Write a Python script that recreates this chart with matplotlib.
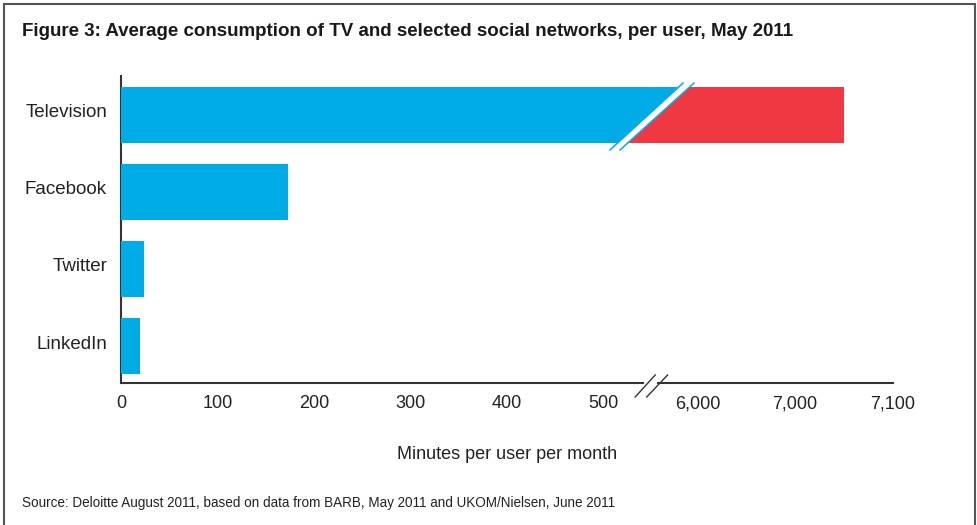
import numpy as np
import matplotlib
matplotlib.use("Agg")
import matplotlib.pyplot as plt
import matplotlib.transforms as mtransforms
from matplotlib.patches import Polygon, Rectangle

plt.rcParams['font.family'] = ['Liberation Sans', 'DejaVu Sans']

# data (minutes per user per month)
networks = ['Television', 'Facebook', 'Twitter', 'LinkedIn']
minutes = [7050, 173, 24, 20]

tick_vals = [0, 100, 200, 300, 400, 500, 6000, 7000, 7100]
tick_labels = ['0', '100', '200', '300', '400', '500', '6,000', '7,000', '7,100']

blue = '#00ace6'
red = '#ef3842'
txt = '#222222'

# broken axis: piecewise linear scale (value -> position)
seg_vals = [0, 500, 6000, 7000, 7100]
seg_pos = [0, 482, 577, 674, 772]


def fwd(v):
    return np.interp(v, seg_vals, seg_pos)


def inv(p):
    return np.interp(p, seg_pos, seg_vals)


fig = plt.figure(figsize=(9.78, 5.25), dpi=100)
ax = fig.add_axes([121/978, 1-383/525, 772/978, 307/525])
ax.set_xscale('function', functions=(fwd, inv))

ypos = np.arange(len(networks))
h = 0.725

# red bar under everything, blue drawn over with clip
ax.barh(ypos[0], minutes[0], height=h, color=red, zorder=2)
bars = ax.barh(ypos, minutes, height=h, color=blue, zorder=3)

bt = mtransforms.blended_transform_factory(ax.transAxes, ax.transData)
# slash through the television bar
y_lo, y_hi = 0.459, -0.408
l1 = [(0.6334, y_lo), (0.7280, y_hi)]
l2 = [(0.6464, y_lo), (0.7422, y_hi)]
clip = Polygon([(-0.1, y_lo), l1[0], l1[1], (-0.1, y_hi)], closed=True,
               transform=bt, facecolor='none', edgecolor='none')
ax.add_patch(clip)
bars[0].set_clip_path(clip)
ax.add_patch(Polygon([l1[0], l1[1], l2[1], l2[0]], closed=True, transform=bt,
                     facecolor='white', edgecolor='none', zorder=4))
for l in (l1, l2):
    ax.plot([l[0][0], l[1][0]], [l[0][1], l[1][1]], transform=bt,
            color=blue, lw=1.1, zorder=5)

ax.set_xlim(0, 7100)
ax.set_ylim(3.48, -0.5)
ax.set_xticks(tick_vals)
ax.set_xticklabels(tick_labels)
ax.set_yticks(ypos - 0.05)
ax.set_yticklabels(networks)
ax.tick_params(axis='both', length=0, labelsize=13, colors=txt)
ax.tick_params(axis='y', labelsize=13.5)
ax.tick_params(axis='x', pad=9)
ax.tick_params(axis='y', pad=10)

for s in ['top', 'right', 'bottom']:
    ax.spines[s].set_visible(False)
ax.spines['left'].set_color('#333333')
ax.spines['left'].set_linewidth(1.5)

# bottom axis with break marks
ax.plot([0, 0.676], [0, 0], transform=ax.transAxes, color='#333333', lw=1.5, clip_on=False, zorder=6)
ax.plot([0.696, 1], [0, 0], transform=ax.transAxes, color='#333333', lw=1.5, clip_on=False, zorder=6)
ax.plot([0.666, 0.692], [-0.0456, 0.026], transform=ax.transAxes, color='#333333', lw=1, clip_on=False)
ax.plot([0.681, 0.708], [-0.0456, 0.026], transform=ax.transAxes, color='#333333', lw=1, clip_on=False)

ax.set_xlabel('Minutes per user per month', fontsize=13, color=txt, labelpad=24)

fig.text(22/978, 1-32/525, 'Figure 3: Average consumption of TV and selected social networks, per user, May 2011',
         fontsize=13.5, fontweight='bold', color='#1a1a1a', va='center', ha='left')
fig.text(22/978, 1-503/525, 'Source: Deloitte August 2011, based on data from BARB, May 2011 and UKOM/Nielsen, June 2011',
         fontsize=9.75, color=txt, va='center', ha='left')

fig.patches.append(Rectangle((4/978, -0.02), 971/978, 1.02-4/525, transform=fig.transFigure,
                             facecolor='none', edgecolor='#555555', lw=1.5))

fig.savefig('out.png', dpi=100)
